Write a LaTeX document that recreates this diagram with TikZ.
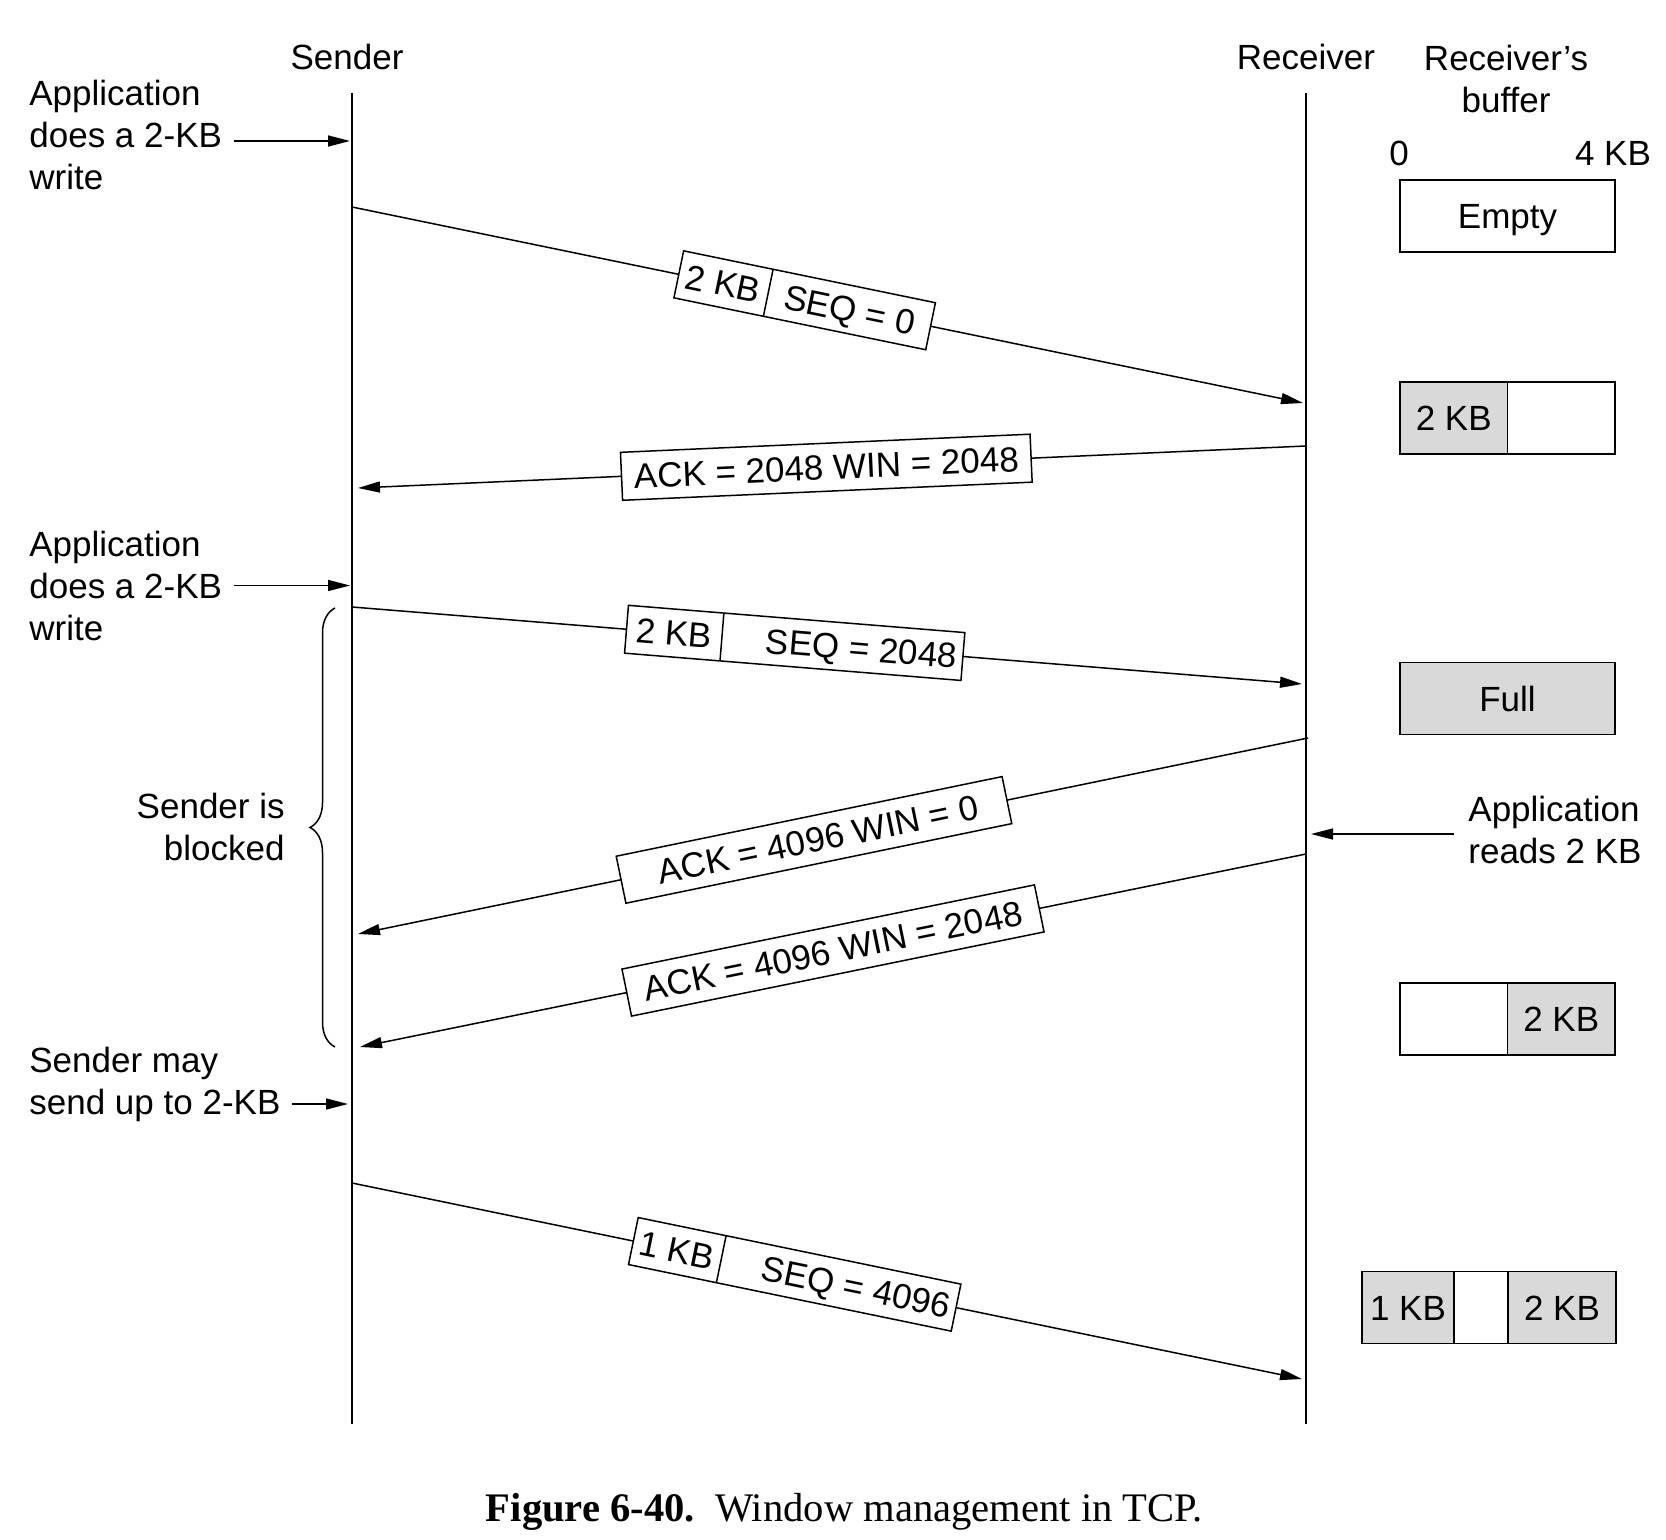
\documentclass[tikz,border=0pt]{standalone}
\usepackage{fontspec}
\setmainfont{Liberation Sans}
\newfontfamily\capfont{Liberation Serif}
\usetikzlibrary{arrows.meta,decorations.pathreplacing}
\definecolor{bufgray}{HTML}{D9D9D9}
\newcommand\pcell[3][c]{\makebox[#2][#1]{\rule[-5.75pt]{0pt}{24pt}#3}}
\newcommand\pdiv{\vrule width 0.75pt}
\begin{document}
\begin{tikzpicture}[x=0.5pt,y=-0.5pt,
  every node/.style={font=\fontsize{17.5pt}{21pt}\selectfont, inner sep=0pt},
  life/.style={line width=0.75pt},
  msg/.style={line width=0.75pt, -{Triangle[length=11pt,width=5.5pt]}},
  seg/.style={draw, fill=white, line width=0.75pt, inner sep=0pt, sloped},
  buf/.style={draw, line width=0.75pt, minimum height=36pt, inner sep=0pt, outer sep=0pt,
              text height=12.6pt, text depth=0pt},
  full/.style={fill=bufgray},
  brc/.style={line width=0.75pt, decorate, decoration={brace, amplitude=12.5pt}}]
\useasboundingbox (0,0) rectangle (1666,1540);

% lifelines
\coordinate (sT) at (352,93);  \coordinate (sB) at (352,1424);
\coordinate (rT) at (1306,93); \coordinate (rB) at (1306,1424);
\draw[life] (sT) -- (sB);
\draw[life] (rT) -- (rB);

% headings
\node[anchor=base] (sender) at (347,70) {Sender};
\node[anchor=base] (receiver) at (1306,70) {Receiver};
\node[align=center] (rbuf) at (1506,78.5) {Receiver's\\buffer};
\node[anchor=base] (zero) at (1399,166) {0};
\node[anchor=base] (four) at (1613,166) {4 KB};

% left annotations
\node[anchor=west, align=left] (app1) at (29,134.75) {Application\\does a 2-KB\\write};
\coordinate (a1s) at (234,141); \coordinate (a1e) at (350,141);
\draw[msg] (a1s) -- (a1e);

\node[anchor=west, align=left] (app2) at (29,586.25) {Application\\does a 2-KB\\write};
\coordinate (a2s) at (234,585.5); \coordinate (a2e) at (350,585.5);
\draw[msg] (a2s) -- (a2e);

\node[anchor=east, align=right] (blk) at (285,827) {Sender is\\blocked};
\coordinate (brB) at (335,1047); \coordinate (brT) at (335,608);
\draw[brc] (brB) -- (brT);

\node[anchor=west, align=left] (may) at (29,1084) {Sender may\\send up to 2-KB};
\coordinate (a3s) at (292,1104); \coordinate (a3e) at (348,1104);
\draw[msg] (a3s) -- (a3e);

\node[anchor=west, align=left] (rd) at (1468,829.5) {Application\\reads 2 KB};
\coordinate (a4s) at (1454,834); \coordinate (a4e) at (1311,834);
\draw[msg] (a4s) -- (a4e);

% messages
\coordinate (m1s) at (352,207);  \coordinate (m1e) at (1303,403);
\draw[msg] (m1s) -- node[seg, pos=0.476] (l1) {\pcell{45.3pt}{2 KB}\pdiv\pcell{82.5pt}{SEQ = 0}} (m1e);

\coordinate (m2s) at (1306,446); \coordinate (m2e) at (358,488);
\draw[msg] (m2s) -- node[seg, pos=0.506] (l2) {\pcell{205pt}{ACK = 2048 WIN = 2048}} (m2e);

\coordinate (m3s) at (352,607);  \coordinate (m3e) at (1302,684);
\draw[msg] (m3s) -- node[seg, pos=0.466] (l3) {\pcell{47.5pt}{2 KB}\pdiv\pcell[r]{120.5pt}{SEQ = 2048\hspace{3pt}}} (m3e);

\coordinate (m4s) at (1308,738); \coordinate (m4e) at (358,934);
\draw[msg] (m4s) -- node[seg, pos=0.52] (l4) {\pcell{197pt}{\hspace{4pt}ACK = 4096 WIN = 0}} (m4e);

\coordinate (m5s) at (1306,854); \coordinate (m5e) at (360,1047);
\draw[msg] (m5s) -- node[seg, pos=0.50] (l5) {\pcell{210.5pt}{ACK = 4096 WIN = 2048}} (m5e);

\coordinate (m6s) at (352,1183); \coordinate (m6e) at (1302,1379);
\draw[msg] (m6s) -- node[seg, pos=0.466] (l6) {\pcell{44.5pt}{1 KB}\pdiv\pcell[r]{119.5pt}{SEQ = 4096\hspace{3pt}}} (m6e);

% receiver's buffer
\node[buf, minimum width=107.5pt] (b1) at (1507.5,216) {Empty};
\node[buf, full, minimum width=53.75pt] (b2a) at (1453.75,418) {2 KB};
\node[buf, minimum width=53.75pt] (b2b) at (1561.25,418) {};
\node[buf, full, minimum width=107.5pt] (b3) at (1507.5,698.5) {Full};
\node[buf, minimum width=53.75pt] (b4a) at (1453.75,1019) {};
\node[buf, full, minimum width=53.75pt] (b4b) at (1561.25,1019) {2 KB};
\node[buf, full, minimum width=46pt] (b5a) at (1408,1307.5) {1 KB};
\node[buf, minimum width=27pt] (b5b) at (1481,1307.5) {};
\node[buf, full, minimum width=54pt] (b5c) at (1562,1307.5) {2 KB};

% caption
\node[anchor=base, font=\capfont\fontsize{20.3pt}{24pt}\selectfont] (cap) at (844.5,1521)
  {\textbf{Figure 6-40.}\ \ Window management in TCP.};
\end{tikzpicture}
\end{document}
